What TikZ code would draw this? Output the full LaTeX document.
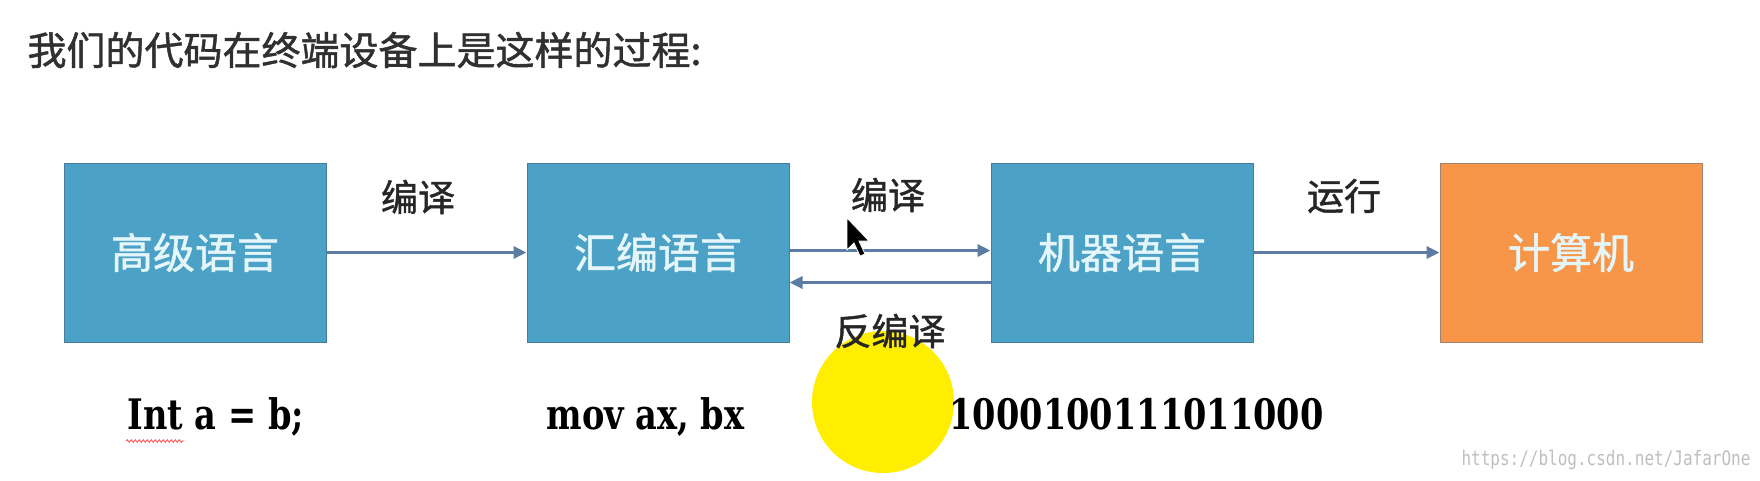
\documentclass[tikz,border=0pt]{standalone}
\usepackage{fontspec}
\setmainfont{DejaVu Serif}
\newfontfamily\cjk[FakeBold=1.2]{Noto Sans CJK SC}
\newfontfamily\codefont[FakeStretch=0.8]{DejaVu Serif}
\newfontfamily\markfont[FakeStretch=0.8]{DejaVu Sans Mono}
\usetikzlibrary{arrows.meta,decorations.pathmorphing}

\definecolor{boxblue}{RGB}{75,162,198}
\definecolor{boxedge}{RGB}{70,125,155}
\definecolor{boxorange}{RGB}{247,150,72}
\definecolor{orangeedge}{RGB}{160,130,110}
\definecolor{boxtext}{RGB}{228,246,250}
\definecolor{flowblue}{RGB}{92,124,163}
\definecolor{titlegray}{RGB}{48,48,48}
\definecolor{spot}{RGB}{255,238,0}

\tikzset{
  lang/.style={draw=boxedge, line width=1pt, fill=boxblue, minimum width=262pt,
    minimum height=179pt, inner sep=0pt, text=boxtext,
    font=\cjk\fontsize{42}{48}\selectfont},
  flow/.style={draw=flowblue, line width=3.5pt, -{Triangle[length=13pt,width=12pt]}},
  steplabel/.style={text=black!85, font=\cjk\fontsize{37}{44}\selectfont},
  codeline/.style={anchor=base west, text=black, font=\codefont\bfseries\fontsize{42}{48}\selectfont}
}

\begin{document}
\begin{tikzpicture}[x=1pt,y=-1pt]
\useasboundingbox (0,0) rectangle (1760,480);
\fill[white] (0,0) rectangle (1760,480);

% title
\node[anchor=west, text=titlegray, font=\cjk\fontsize{39}{46}\selectfont] (title) at (24,50)
  {我们的代码在终端设备上是这样的过程:};

% cursor highlight
\fill[spot] (883,402) circle [radius=71pt];

% boxes
\node[lang] (high) at (195,252.5) {高级语言};
\node[lang] (asm) at (658,252.5) {汇编语言};
\node[lang] (machine) at (1122,252.5) {机器语言};
\node[lang, fill=boxorange, draw=orangeedge] (computer) at (1571,252.5) {计算机};

% arrows
\draw[flow] (high.east) -- (asm.west);
\draw[flow] ([yshift=2pt]asm.east) -- ([yshift=2pt]machine.west);
\draw[flow] ([yshift=-30pt]machine.west) -- ([yshift=-30pt]asm.east);
\draw[flow] (machine.east) -- (computer.west);

% labels
\node[steplabel] (compile1) at (418,197) {编译};
\node[steplabel] (compile2) at (888,195) {编译};
\node[steplabel] (decompile) at (890,331) {反编译};
\node[steplabel] (run) at (1344,196) {运行};

% code under the boxes
\node[codeline] (code1) at (124,429) {Int a = b;};
\node[codeline] (code2) at (543,429) {mov ax, bx};
\node[codeline] (code3) at (946,429) {1000100111011000};
\draw[red!70, line width=0.8pt, decorate, decoration={snake, amplitude=1.3pt, segment length=4pt}]
  ([shift={(2pt,-12pt)}]code1.base west) -- ++(58,0);

% mouse pointer
\filldraw[fill=black, draw=white, line width=0.8pt] (847,218) -- ++(0,32) -- ++(7,-7) -- ++(6,13)
  -- ++(5,-2) -- ++(-6,-13) -- ++(10,0) -- cycle;

% watermark
\node[anchor=east, text=black!25, font=\markfont\fontsize{20}{24}\selectfont] (mark) at (1754,460)
  {https://blog.csdn.net/JafarOne};
\end{tikzpicture}
\end{document}
